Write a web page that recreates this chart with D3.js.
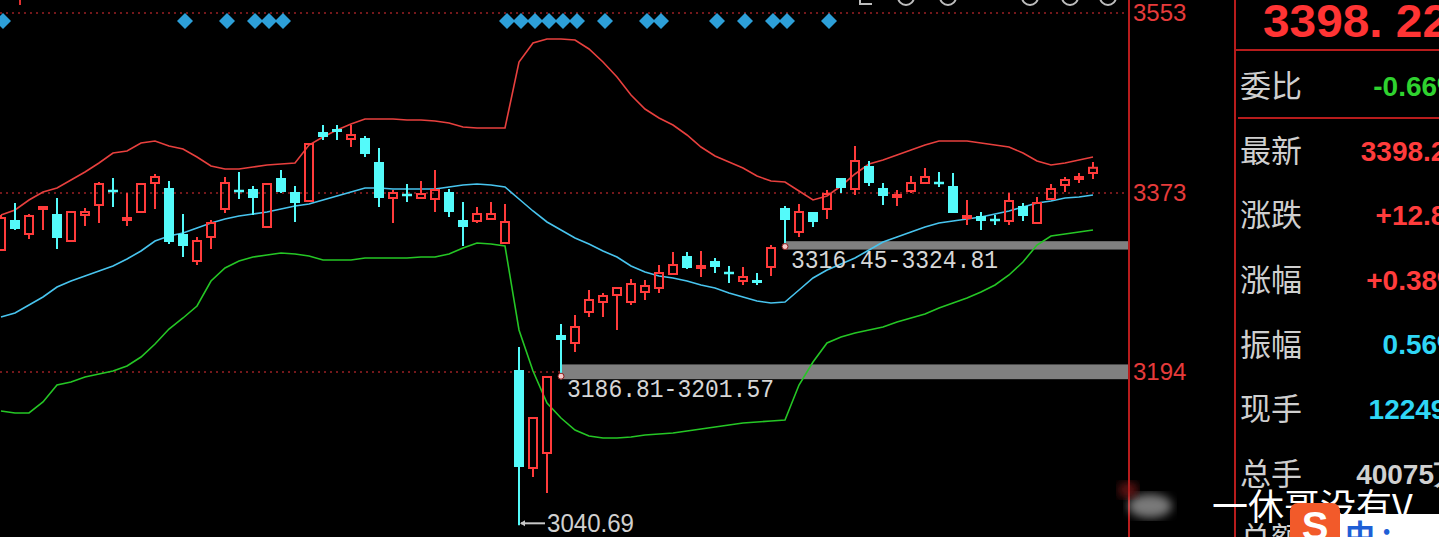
<!DOCTYPE html>
<html><head><meta charset="utf-8">
<script src="https://cdn.jsdelivr.net/npm/d3@7/dist/d3.min.js"></script>
<style>html,body{margin:0;padding:0;background:#000;overflow:hidden}</style>
</head><body>
<svg id="chart" width="1439" height="537"></svg>
<script>
// ---------- data ----------
const openP = [3316,3346,3332,3357,3352,3325,3351,3361,3376,3346, 3354,3383,3378,3332,3305,3329,3357,3376,3377,3339,
  3388,3374,3365,3434,3437,3427,3428,3404,3368,3372, 3368,3367,3374,3346,3345,3347,3323,3196,3098,3113,
  3231,3223,3254,3264,3271,3264,3274,3278,3292,3310, 3298,3305,3294,3285,3286,3299,3358,3334,3354,3357,
  3388,3377,3400,3378,3369,3375,3383,3384,3380,3348, 3350,3347,3345,3360,3343,3367,3381,3387,3393];
const highP = [3351,3363,3352,3360,3368,3355,3358,3384,3388,3373, 3383,3392,3385,3352,3329,3346,3389,3394,3380,3383,
  3396,3380,3423,3441,3441,3441,3430,3418,3376,3382, 3385,3396,3377,3364,3359,3364,3362,3219,3148,3190,
  3242,3251,3276,3273,3279,3287,3286,3301,3314,3314, 3315,3308,3300,3299,3293,3321,3360,3362,3354,3376,
  3388,3420,3405,3383,3376,3390,3398,3394,3393,3366, 3354,3351,3373,3363,3369,3382,3389,3393,3404];
const lowP = [3315,3336,3327,3336,3317,3324,3340,3343,3359,3340, 3353,3357,3322,3309,3301,3317,3353,3367,3351,3338,
  3373,3344,3364,3426,3426,3419,3409,3359,3343,3364, 3367,3354,3349,3320,3343,3346,3322,3040.69,3089,3073,
  3186.81,3214,3249,3249,3236,3261,3266,3273,3291,3297, 3289,3293,3283,3281,3281,3290,3316.45,3329,3339,3347,
  3373,3371,3380,3361,3360,3373,3383,3379,3353,3341, 3336,3341,3341,3345,3343,3367,3374,3383,3387];
const closeP = [3348,3337,3350,3359,3328,3354,3354,3382,3374,3348, 3382,3389,3324,3320,3325,3343,3383,3374,3368,3382,
  3374,3363,3422,3429,3434,3431,3412,3368,3373,3370, 3372,3376,3354,3339,3352,3352,3344,3099,3148,3189,
  3226,3239,3266,3270,3278,3282,3280,3293,3301,3298, 3300,3299,3292,3289,3283,3318,3346,3354,3344,3372,
  3378,3405,3383,3370,3371,3383,3389,3382,3353,3350, 3345,3345,3365,3350,3363,3377,3386,3389,3398.22];
const bollUpper = [3351,3356,3366,3374,3378,3386,3394,3403,3413,3415, 3423,3425,3420,3417,3409,3400,3397,3397,3399,3401,
  3402,3403,3421,3429,3436,3442,3447,3447,3447,3446, 3446,3445,3443,3439,3438,3438,3438,3504,3523,3527,
  3527,3526,3517,3504,3489,3471,3457,3448,3441,3431, 3419,3410,3404,3398,3390,3385,3384,3375,3366,3370,
  3380,3392,3402,3406,3411,3416,3421,3425,3425,3425, 3423,3421,3419,3413,3405,3401,3403,3406,3409];
const bollMid = [3249,3253,3261,3269,3279,3285,3290,3295,3300,3307, 3315,3325,3330,3333,3338,3343,3347,3350,3352,3354,
  3357,3360,3362,3366,3370,3374,3378,3378,3377,3377, 3377,3377,3379,3381,3382,3381,3379,3367,3355,3344,
  3336,3328,3322,3315,3309,3300,3294,3290,3288,3285, 3281,3278,3273,3269,3265,3263,3264,3276,3288,3296,
  3302,3308,3316,3324,3329,3334,3339,3343,3345,3347, 3349,3352,3355,3359,3363,3365,3368,3369,3371];
const bollLower = [3155,3153,3153,3164,3181,3184,3189,3192,3195,3200, 3209,3222,3237,3248,3260,3285,3298,3305,3309,3311,
  3313,3312,3310,3306,3306,3306,3308,3308,3308,3308, 3309,3309,3312,3318,3323,3322,3320,3236,3195,3163,
  3148,3136,3130,3128,3128,3129,3131,3132,3133,3135, 3137,3139,3141,3143,3144,3145,3146,3181,3204,3223,
  3229,3233,3236,3239,3244,3248,3252,3258,3263,3268, 3274,3281,3291,3304,3321,3330,3332,3334,3336];
const signalIdx = [0,13,16,18,19,20,36,37,38,39,40,41,43,46,47,51,53,55,56,59];
const tickValues = [3194, 3373, 3553];
const gapZones = [ {from: 40, lo: 3186.81, hi: 3201.57}, {from: 56, lo: 3316.45, hi: 3324.81} ];
const lowMarkIdx = 37;
const lastPrice = "3398. 22";
const panelLabels = ["委比","最新","涨跌","涨幅","振幅","现手","总手","总额"];
const panelValues = ["-0.66%","3398.22","+12.87","+0.38%","0.56%","122490","40075万"];
const panelColors = ["#2fd22f","#ff3c3c","#ff3c3c","#ff3c3c","#2fd6f5","#2fd6f5","#d0d0d0"];
const watermark = "一休哥没有V";

// ---------- chart ----------
const W = 1439, H = 537;
const svg = d3.select("#chart");
svg.append("rect").attr("width", W).attr("height", H).attr("fill", "#000");

const plotRight = 1128;
const x = d3.scaleLinear().domain([0, openP.length - 1]).range([1, 1093]);
const y = d3.scaleLinear().domain([3194, 3553]).range([372, 13]);

const RED = "#ff3b3b", CYAN = "#54fafa";

// dotted grid lines
svg.append("g").selectAll("line").data(tickValues).join("line")
  .attr("x1", 0).attr("x2", plotRight)
  .attr("y1", d => y(d)).attr("y2", d => y(d))
  .attr("stroke", "#9a2024").attr("stroke-width", 1.5).attr("stroke-dasharray", "2,4");

// axis
const axis = d3.axisRight(y).tickValues(tickValues).tickSize(0).tickPadding(4).tickFormat(d3.format("d"));
const ag = svg.append("g").attr("transform", `translate(${plotRight + 1},0)`).call(axis);
ag.select(".domain").remove();
ag.selectAll("text").attr("fill", "#e63b3b").attr("font-size", 24)
  .attr("font-family", "Liberation Sans, Arial, sans-serif");

// frame lines
svg.append("line").attr("x1", 1129).attr("x2", 1129).attr("y1", 0).attr("y2", H)
  .attr("stroke", "#b81c1c").attr("stroke-width", 2);
svg.append("line").attr("x1", 1235).attr("x2", 1235).attr("y1", 0).attr("y2", H)
  .attr("stroke", "#b81c1c").attr("stroke-width", 2);
svg.append("line").attr("x1", 1235).attr("x2", W).attr("y1", 50).attr("y2", 50)
  .attr("stroke", "#b81c1c").attr("stroke-width", 2);
svg.append("line").attr("x1", 1238).attr("x2", W).attr("y1", 118).attr("y2", 118)
  .attr("stroke", "#b81c1c").attr("stroke-width", 2);
svg.append("line").attr("x1", 20).attr("x2", 20).attr("y1", 0).attr("y2", 5)
  .attr("stroke", "#e03030").attr("stroke-width", 2);

// top icons (cut off)
svg.append("g").selectAll("circle").data([906, 948, 1030, 1070, 1108]).join("circle")
  .attr("cx", d => d).attr("cy", -3).attr("r", 8)
  .attr("fill", "none").attr("stroke", "#bdbdbd").attr("stroke-width", 2);
svg.append("path").attr("d", "M860,0 L860,4 L872,4").attr("fill", "none").attr("stroke", "#bdbdbd").attr("stroke-width", 2);

// gap zones
gapZones.forEach(z => {
  svg.append("rect").attr("x", x(z.from)).attr("width", plotRight - x(z.from))
    .attr("y", y(z.hi)).attr("height", y(z.lo) - y(z.hi)).attr("fill", "#808080");
});

// bollinger lines
const line = d3.line().x((d, i) => x(i)).y(d => y(d));
[[bollUpper, "#e8403e"], [bollMid, "#48c4ee"], [bollLower, "#25c625"]].forEach(([arr, c]) => {
  svg.append("path").datum(arr).attr("d", line).attr("fill", "none")
    .attr("stroke", c).attr("stroke-width", 1.6);
});

// candles
const candles = openP.map((o, i) => ({i, o, h: highP[i], l: lowP[i], c: closeP[i]}));
const cg = svg.append("g");
candles.forEach(d => {
  const cx = x(d.i);
  const top = y(Math.max(d.o, d.c)), bot = y(Math.min(d.o, d.c));
  if (d.c >= d.o) {
    cg.append("line").attr("x1", cx).attr("x2", cx).attr("y1", y(d.h)).attr("y2", top)
      .attr("stroke", RED).attr("stroke-width", 2);
    cg.append("line").attr("x1", cx).attr("x2", cx).attr("y1", bot).attr("y2", y(d.l))
      .attr("stroke", RED).attr("stroke-width", 2);
    cg.append("rect").attr("x", cx - 4).attr("width", 8).attr("y", top)
      .attr("height", Math.max(bot - top, 1)).attr("fill", "none")
      .attr("stroke", RED).attr("stroke-width", 2);
  } else {
    cg.append("line").attr("x1", cx).attr("x2", cx).attr("y1", y(d.h)).attr("y2", y(d.l))
      .attr("stroke", CYAN).attr("stroke-width", 2);
    const hgt = Math.max(bot - top, 2.5);
    cg.append("rect").attr("x", cx - 5).attr("width", 10).attr("y", (top + bot) / 2 - hgt / 2)
      .attr("height", hgt).attr("fill", CYAN);
  }
});

// signal diamonds
svg.append("g").selectAll("path").data(signalIdx).join("path")
  .attr("d", i => { const cx = x(i) + 2, cy = 21; return `M${cx},${cy-8} L${cx+8},${cy} L${cx},${cy+8} L${cx-8},${cy} Z`; })
  .attr("fill", "#2d9fd8");

// gap labels and dots
gapZones.forEach(z => {
  svg.append("circle").attr("cx", x(z.from)).attr("cy", y(z.lo) - 3).attr("r", 3)
    .attr("fill", "#f6c8c8").attr("stroke", "#8b1c1c").attr("stroke-width", 1);
  svg.append("text").attr("x", x(z.from) + 6).attr("y", y(z.lo) + 18)
    .attr("font-family", "Liberation Mono, DejaVu Sans Mono, monospace").attr("font-size", 25)
    .attr("textLength", 207).attr("lengthAdjust", "spacingAndGlyphs")
    .attr("fill", "#d6d6d6").text(`${z.lo.toFixed(2)}-${z.hi.toFixed(2)}`);
});

// low marker
const lx = x(lowMarkIdx), ly = y(lowP[lowMarkIdx]) - 2;
svg.append("line").attr("x1", lx + 2).attr("x2", lx + 26).attr("y1", ly).attr("y2", ly)
  .attr("stroke", "#c8c8c8").attr("stroke-width", 2);
svg.append("path").attr("d", `M${lx+1},${ly} L${lx+6},${ly-3} L${lx+6},${ly+3} Z`).attr("fill", "#c8c8c8");
svg.append("text").attr("x", lx + 28).attr("y", ly + 9)
  .attr("font-family", "Liberation Sans, Arial, sans-serif").attr("font-size", 26)
  .attr("textLength", 87).attr("lengthAdjust", "spacingAndGlyphs")
  .attr("fill", "#d0d0d0").text(lowP[lowMarkIdx].toFixed(2));

// ---------- right panel ----------
svg.append("text").attr("x", 1263).attr("y", 37)
  .attr("font-family", "Liberation Sans, Arial, sans-serif").attr("font-size", 46).attr("font-weight", "bold")
  .attr("textLength", 186).attr("lengthAdjust", "spacingAndGlyphs")
  .attr("fill", "#ff3434").text(lastPrice);

panelLabels.forEach((t, i) => {
  const cy = 86 + i * 64.6;
  svg.append("text").attr("x", 1240).attr("y", cy).attr("dy", "0.36em")
    .attr("font-family", "Noto Sans CJK SC, sans-serif").attr("font-size", 31)
    .attr("fill", "#cfcfcf").text(t);
  if (i < panelValues.length) {
    svg.append("text").attr("x", 1462).attr("y", cy).attr("dy", "0.36em").attr("text-anchor", "end")
      .attr("font-family", "Liberation Sans, Arial, sans-serif").attr("font-size", 28).attr("font-weight", "bold")
      .attr("fill", panelColors[i]).text(panelValues[i]);
  }
});

// watermark
const defs = svg.append("defs");
defs.append("filter").attr("id", "blur").append("feGaussianBlur").attr("stdDeviation", 5);
svg.append("ellipse").attr("cx", 1150).attr("cy", 506).attr("rx", 22).attr("ry", 12)
  .attr("fill", "#dddddd").attr("opacity", 0.55).attr("filter", "url(#blur)");
svg.append("ellipse").attr("cx", 1128).attr("cy", 490).attr("rx", 10).attr("ry", 8)
  .attr("fill", "#a02020").attr("opacity", 0.6).attr("filter", "url(#blur)");
svg.append("text").attr("x", 1212).attr("y", 520)
  .attr("font-family", "Noto Sans CJK SC, sans-serif").attr("font-size", 36)
  .attr("fill", "#ffffff").text(watermark);
svg.append("rect").attr("x", 1290).attr("y", 503).attr("width", 50).attr("height", 44).attr("rx", 8)
  .attr("fill", "#f25a2a");
svg.append("text").attr("x", 1315).attr("y", 540).attr("text-anchor", "middle")
  .attr("font-family", "Liberation Sans, Arial, sans-serif").attr("font-size", 40).attr("font-weight", "bold")
  .attr("fill", "#ffffff").text("S");
svg.append("rect").attr("x", 1340).attr("y", 514).attr("width", 99).attr("height", 30)
  .attr("fill", "#ffffff");
svg.append("text").attr("x", 1345).attr("y", 546)
  .attr("font-family", "Noto Sans CJK SC, sans-serif").attr("font-size", 30).attr("font-weight", "bold")
  .attr("fill", "#1f5fd6").text("中 :");
</script>
</body></html>
